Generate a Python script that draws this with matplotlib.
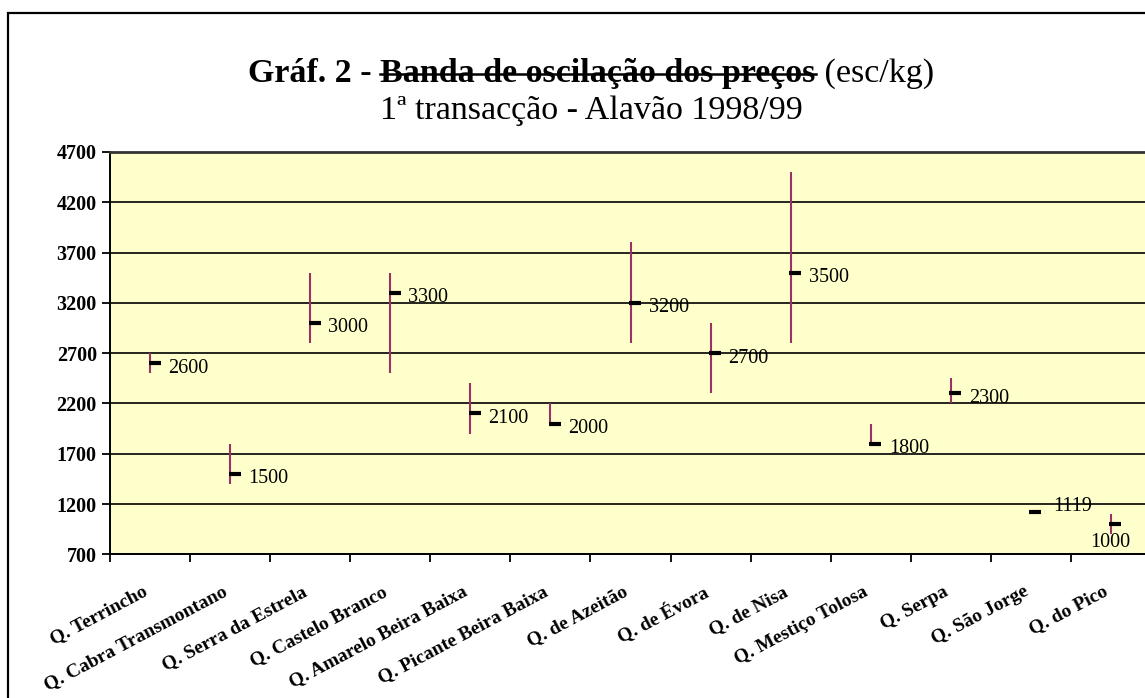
import matplotlib
matplotlib.use("Agg")
import matplotlib.pyplot as plt
import matplotlib.transforms as mtransforms
from matplotlib.patches import Rectangle
import numpy as np

# ---- data ----
categories = ["Q. Terrincho", "Q. Cabra Transmontano", "Q. Serra da Estrela",
              "Q. Castelo Branco", "Q. Amarelo Beira Baixa", "Q. Picante Beira Baixa",
              "Q. de Azeitão", "Q. de Évora", "Q. de Nisa", "Q. Mestiço Tolosa",
              "Q. Serpa", "Q. São Jorge", "Q. do Pico"]
high = [2700, 1800, 3500, 3500, 2400, 2200, 3800, 3000, 4500, 2000, 2450, 1119, 1100]
low = [2500, 1400, 2800, 2500, 1900, 2000, 2800, 2300, 2800, 1800, 2200, 1119, 900]
close = [2600, 1500, 3000, 3300, 2100, 2000, 3200, 2700, 3500, 1800, 2300, 1119, 1000]
yticks = [700, 1200, 1700, 2200, 2700, 3200, 3700, 4200, 4700]

# ---- style ----
SERIF = ["Liberation Serif", "DejaVu Serif"]
W, H, DPI = 1145, 698, 100
fig = plt.figure(figsize=(W / DPI, H / DPI), dpi=DPI)
fig.patch.set_facecolor("white")

# outer chart border (clipped at right/bottom like the reference)
fig.patches.append(Rectangle((8 / W, -0.05), 1.2, (H - 12.7) / H + 0.05,
                             transform=fig.transFigure, fill=False,
                             edgecolor="black", linewidth=1.6))

left_px, right_px, top_px, bot_px = 110, 1151, 151.9, 554.3
ax = fig.add_axes([left_px / W, 1 - bot_px / H, (right_px - left_px) / W,
                   (bot_px - top_px) / H])
ax.set_facecolor("#FFFFCC")
ax.set_xlim(-0.5, len(categories) - 0.5)
ax.set_ylim(700, 4700)

ax.set_yticks(yticks)
ax.set_yticklabels([str(v) for v in yticks], fontfamily=SERIF, fontweight="bold",
                   fontsize=14.5)
ax.yaxis.grid(True, color="black", linewidth=1.2)
ax.set_axisbelow(True)
ax.tick_params(axis="y", direction="out", length=5.5, width=1.3, pad=4)

x = np.arange(len(categories))
ax.set_xticks(x)
ax.set_xticks(np.arange(len(categories) + 1) - 0.5, minor=True)
ax.tick_params(axis="x", which="major", length=0, pad=12)
ax.tick_params(axis="x", which="minor", direction="out", length=5.5, width=1.3)
ax.set_xticklabels(categories, fontfamily=SERIF, fontweight="bold", fontsize=14,
                   rotation=28, ha="right", va="top", rotation_mode="anchor")
for lbl in ax.get_xticklabels():
    lbl.set_transform(lbl.get_transform() +
                      mtransforms.ScaledTranslation(-8 / DPI, -12 / DPI, fig.dpi_scale_trans))

for s in ["left", "bottom", "top"]:
    ax.spines[s].set_color("black")
    ax.spines[s].set_linewidth(1.4)
ax.spines["top"].set_color("#333333")
ax.spines["top"].set_linewidth(2)
ax.spines["right"].set_visible(False)

# high-low lines
ax.vlines(x, low, high, color="#993366", linewidth=1.5, zorder=3)
# close ticks to the right
off = mtransforms.offset_copy(ax.transData, fig=fig, x=4.5, y=0, units="dots")
ax.plot(x, close, linestyle="none", marker="_", markersize=9, mew=3,
        color="black", transform=off, zorder=4)

# data labels
label_offsets = {11: (22, 6), 12: (-21, -18)}
for i, c in enumerate(close):
    dx, dy = label_offsets.get(i, (18, -5))
    ax.annotate(str(c), (x[i], c), xytext=(dx, dy), textcoords="offset pixels",
                ha="left", va="center", fontfamily=SERIF, fontsize=14.5, zorder=5)

# title
fig.canvas.draw()
r = fig.canvas.get_renderer()
base_title = 82
center_x = 591
pieces = [("Gráf. 2 - ", "bold", False), ("Banda de oscilação dos preços", "bold", True),
          (" (esc/kg)", "normal", False)]
texts = []
for s, wgt, strike in pieces:
    t = fig.text(0, 1 - base_title / H, s, fontfamily=SERIF, fontweight=wgt,
                 fontsize=24.5, ha="left", va="baseline")
    texts.append((t, strike))
widths = [t.get_window_extent(r).width for t, _ in texts]
xs = center_x - sum(widths) / 2
for (t, strike), w in zip(texts, widths):
    t.set_x(xs / W)
    if strike:
        fig.lines.append(plt.Line2D([xs / W, (xs + w) / W],
                                    [1 - (base_title - 8) / H] * 2,
                                    transform=fig.transFigure, color="black",
                                    linewidth=1.8))
    xs += w

fig.text(center_x / W, 1 - 119 / H, "1ª transacção - Alavão 1998/99", fontfamily=SERIF,
         fontsize=24.5, ha="center", va="baseline")

fig.savefig("out.png", dpi=DPI)
